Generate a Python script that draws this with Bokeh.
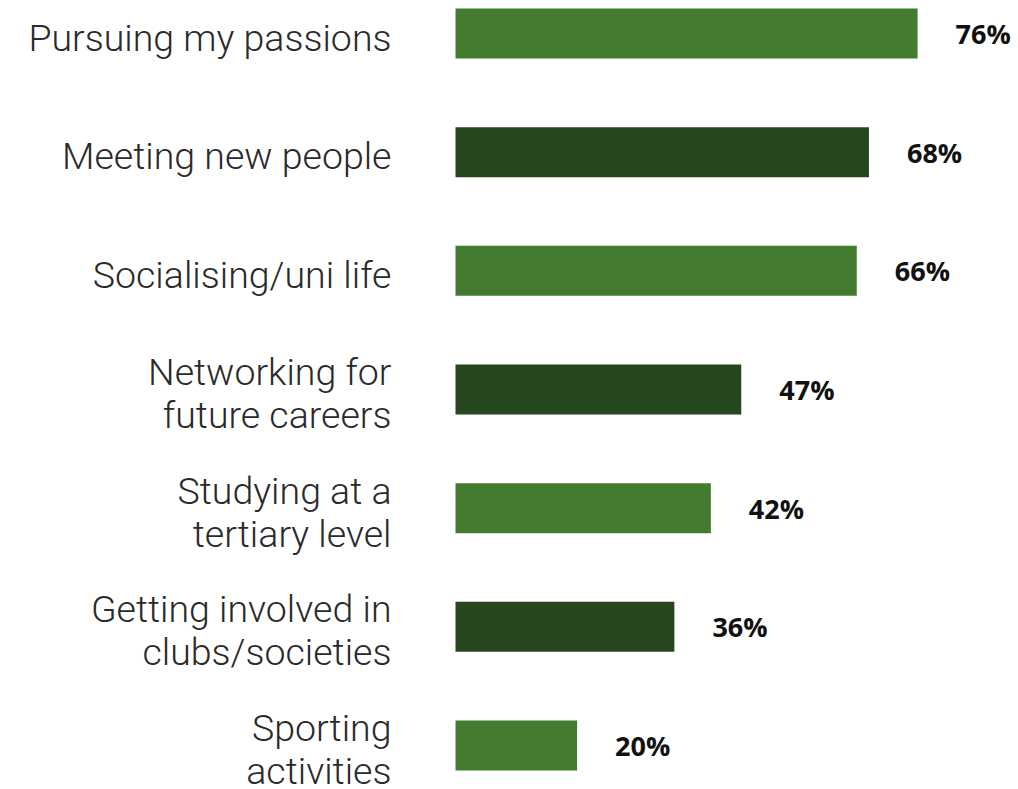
from bokeh.plotting import figure
from bokeh.models import Range1d, ColumnDataSource
from bokeh.core.properties import value
from bokeh.embed import file_html
from bokeh.resources import INLINE

categories = ["Pursuing my passions", "Meeting new people", "Socialising/uni life",
              "Networking for\nfuture careers", "Studying at a\ntertiary level",
              "Getting involved in\nclubs/societies", "Sporting\nactivities"]
values = [76, 68, 66, 47, 42, 36, 20]
colors = ["#437C30", "#26461D", "#437C30", "#26461D", "#437C30", "#26461D", "#437C30"]

W, H = 1018, 789
pxu = 6.08
x0 = -455 / pxu
row = 118.67
y0 = -33 / row

src = ColumnDataSource(dict(
    y=list(range(len(values))),
    v=values,
    c=colors,
    lab=categories,
    vl=[f"{v}%" for v in values],
    zero=[0] * len(values),
))

p = figure(width=W, height=H, output_backend="svg", toolbar_location=None,
           x_range=Range1d(x0, x0 + W / pxu), y_range=Range1d(y0 + H / row, y0),
           min_border=0)
p.axis.visible = False
p.grid.visible = False
p.outline_line_color = None

p.hbar(y="y", left=0, right="v", height=50 / row, fill_color="c", line_color=None, source=src)
p.text(x="zero", y="y", text="lab", x_offset=-64, y_offset=4, text_align="right", text_baseline="middle",
       text_font=value("Roboto Light"), text_font_size="37.5px", text_color="#2a2a2a",
       text_line_height=0.98, source=src)
p.text(x="v", y="y", text="vl", x_offset=38, text_align="left", text_baseline="middle",
       text_font=value("Open Sans"), text_font_style="bold", text_font_size="27px",
       text_color="#111111", source=src)

open("out.html", "w").write(file_html(p, INLINE))
